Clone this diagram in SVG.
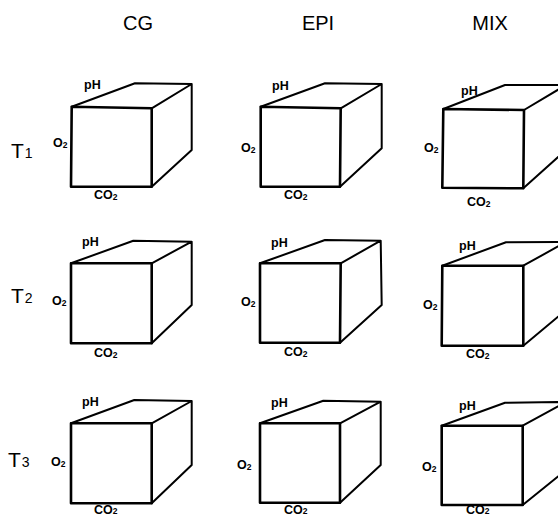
<svg xmlns="http://www.w3.org/2000/svg" width="558" height="516" viewBox="0 0 558 516">
<style>
.bg{fill:#fff}
.face{fill:#fff;stroke:#000;stroke-width:2.6;stroke-linejoin:round}
.edge{fill:none;stroke:#000;stroke-width:2;stroke-linejoin:round;stroke-linecap:round}
.hdr{font-family:"Liberation Sans",Arial,sans-serif;font-size:20px;fill:#000}
.row{font-family:"Liberation Sans",Arial,sans-serif;font-size:21px;fill:#000}
.rsub{font-size:14px}
.lbl{font-family:"Liberation Sans",Arial,sans-serif;font-size:12.5px;font-weight:bold;fill:#000}
.sub{font-size:8.5px}
</style>
<rect class="bg" x="0" y="0" width="558" height="516"/>
<g id="headers">
<text class="hdr" x="138" y="30" text-anchor="middle">CG</text>
<text class="hdr" x="318" y="30" text-anchor="middle">EPI</text>
<text class="hdr" x="490" y="30" text-anchor="middle">MIX</text>
</g>
<g id="rowlabels">
<text class="row" x="11" y="158">T<tspan class="rsub" dx="1">1</tspan></text>
<text class="row" x="11" y="303">T<tspan class="rsub" dx="1">2</tspan></text>
<text class="row" x="8" y="467">T<tspan class="rsub" dx="1">3</tspan></text>
</g>
<g id="connectors"></g>

<g id="cube-CG-T1">
<path class="edge" d="M71.7,106.7 L135,83.3 L191.7,84 L151.7,108.3 M191.7,84 L191.7,150 L151.7,186.7"/>
<path class="face" d="M71.7,106.7 L151.7,108.3 L151.7,186.7 L71,186.7 Z"/>
<text class="lbl" x="84" y="89">pH</text>
<text class="lbl" x="53" y="147">O<tspan class="sub" dy="1">2</tspan></text>
<text class="lbl" x="94" y="199">CO<tspan class="sub" dy="1">2</tspan></text>
</g>

<g id="cube-EPI-T1">
<path class="edge" d="M260.7,106.7 L325,83.3 L381.7,84 L340.7,108.3 M381.7,84 L381.7,148.3 L340,186.7"/>
<path class="face" d="M260.7,106.7 L340.7,108.3 L340,186.7 L260.7,186.7 Z"/>
<text class="lbl" x="272" y="90">pH</text>
<text class="lbl" x="241" y="152">O<tspan class="sub" dy="1">2</tspan></text>
<text class="lbl" x="284" y="199">CO<tspan class="sub" dy="1">2</tspan></text>
</g>

<g id="cube-MIX-T1">
<path class="edge" d="M443.3,109 L505,85 L566,85 L524,110 M566,85 L566,150 L523.3,188.3"/>
<path class="face" d="M443.3,109 L524,110 L523.3,188.3 L442.3,187.7 Z"/>
<text class="lbl" x="461" y="95">pH</text>
<text class="lbl" x="424" y="152">O<tspan class="sub" dy="1">2</tspan></text>
<text class="lbl" x="467" y="206">CO<tspan class="sub" dy="1">2</tspan></text>
</g>

<g id="cube-CG-T2">
<path class="edge" d="M71,263.3 L133.3,240.7 L191.7,241.7 L151.7,263.3 M191.7,241.7 L191.7,305 L151.7,343.3"/>
<path class="face" d="M71,263.3 L151.7,263.3 L151.7,343.3 L71,343.3 Z"/>
<text class="lbl" x="82" y="246">pH</text>
<text class="lbl" x="52" y="305">O<tspan class="sub" dy="1">2</tspan></text>
<text class="lbl" x="94" y="357">CO<tspan class="sub" dy="1">2</tspan></text>
</g>

<g id="cube-EPI-T2">
<path class="edge" d="M260,263.3 L325,240 L380.7,240.7 L340.7,263.3 M380.7,240.7 L381.7,305 L340,342.7"/>
<path class="face" d="M260,263.3 L340.7,263.3 L340,342.7 L260,342.7 Z"/>
<text class="lbl" x="271" y="247">pH</text>
<text class="lbl" x="241" y="306">O<tspan class="sub" dy="1">2</tspan></text>
<text class="lbl" x="284" y="356">CO<tspan class="sub" dy="1">2</tspan></text>
</g>

<g id="cube-MIX-T2">
<path class="edge" d="M442.3,265.7 L506,242.3 L566,242 L523.3,265.7 M566,242 L566,310 L523.3,345.7"/>
<path class="face" d="M442.3,265.7 L523.3,265.7 L523.3,345.7 L441.7,345.7 Z"/>
<text class="lbl" x="459" y="250">pH</text>
<text class="lbl" x="423" y="309">O<tspan class="sub" dy="1">2</tspan></text>
<text class="lbl" x="466" y="358">CO<tspan class="sub" dy="1">2</tspan></text>
</g>

<g id="cube-CG-T3">
<path class="edge" d="M71,423.3 L134.3,400 L191.7,401 L151.7,423.3 M191.7,401 L191.7,465 L151.7,503.3"/>
<path class="face" d="M71,423.3 L151.7,423.3 L151.7,503.3 L71,503.3 Z"/>
<text class="lbl" x="82" y="406">pH</text>
<text class="lbl" x="51" y="466">O<tspan class="sub" dy="1">2</tspan></text>
<text class="lbl" x="94" y="514">CO<tspan class="sub">2</tspan></text>
</g>

<g id="cube-EPI-T3">
<path class="edge" d="M260,423.3 L323.3,400.7 L380.7,401.7 L340,423.3 M380.7,401.7 L380.7,465 L340,502.7"/>
<path class="face" d="M260,423.3 L340,423.3 L340,502.7 L260,502.7 Z"/>
<text class="lbl" x="271" y="407">pH</text>
<text class="lbl" x="237" y="469">O<tspan class="sub" dy="1">2</tspan></text>
<text class="lbl" x="284" y="514">CO<tspan class="sub">2</tspan></text>
</g>

<g id="cube-MIX-T3">
<path class="edge" d="M441.7,425.7 L505,402.7 L566,402 L522.7,425.7 M566,402 L566,470 L522.7,505"/>
<path class="face" d="M441.7,425.7 L522.7,425.7 L522.7,505 L441.7,505 Z"/>
<text class="lbl" x="459" y="410">pH</text>
<text class="lbl" x="422" y="471">O<tspan class="sub" dy="1">2</tspan></text>
<text class="lbl" x="466" y="514">CO<tspan class="sub">2</tspan></text>
</g>
</svg>
